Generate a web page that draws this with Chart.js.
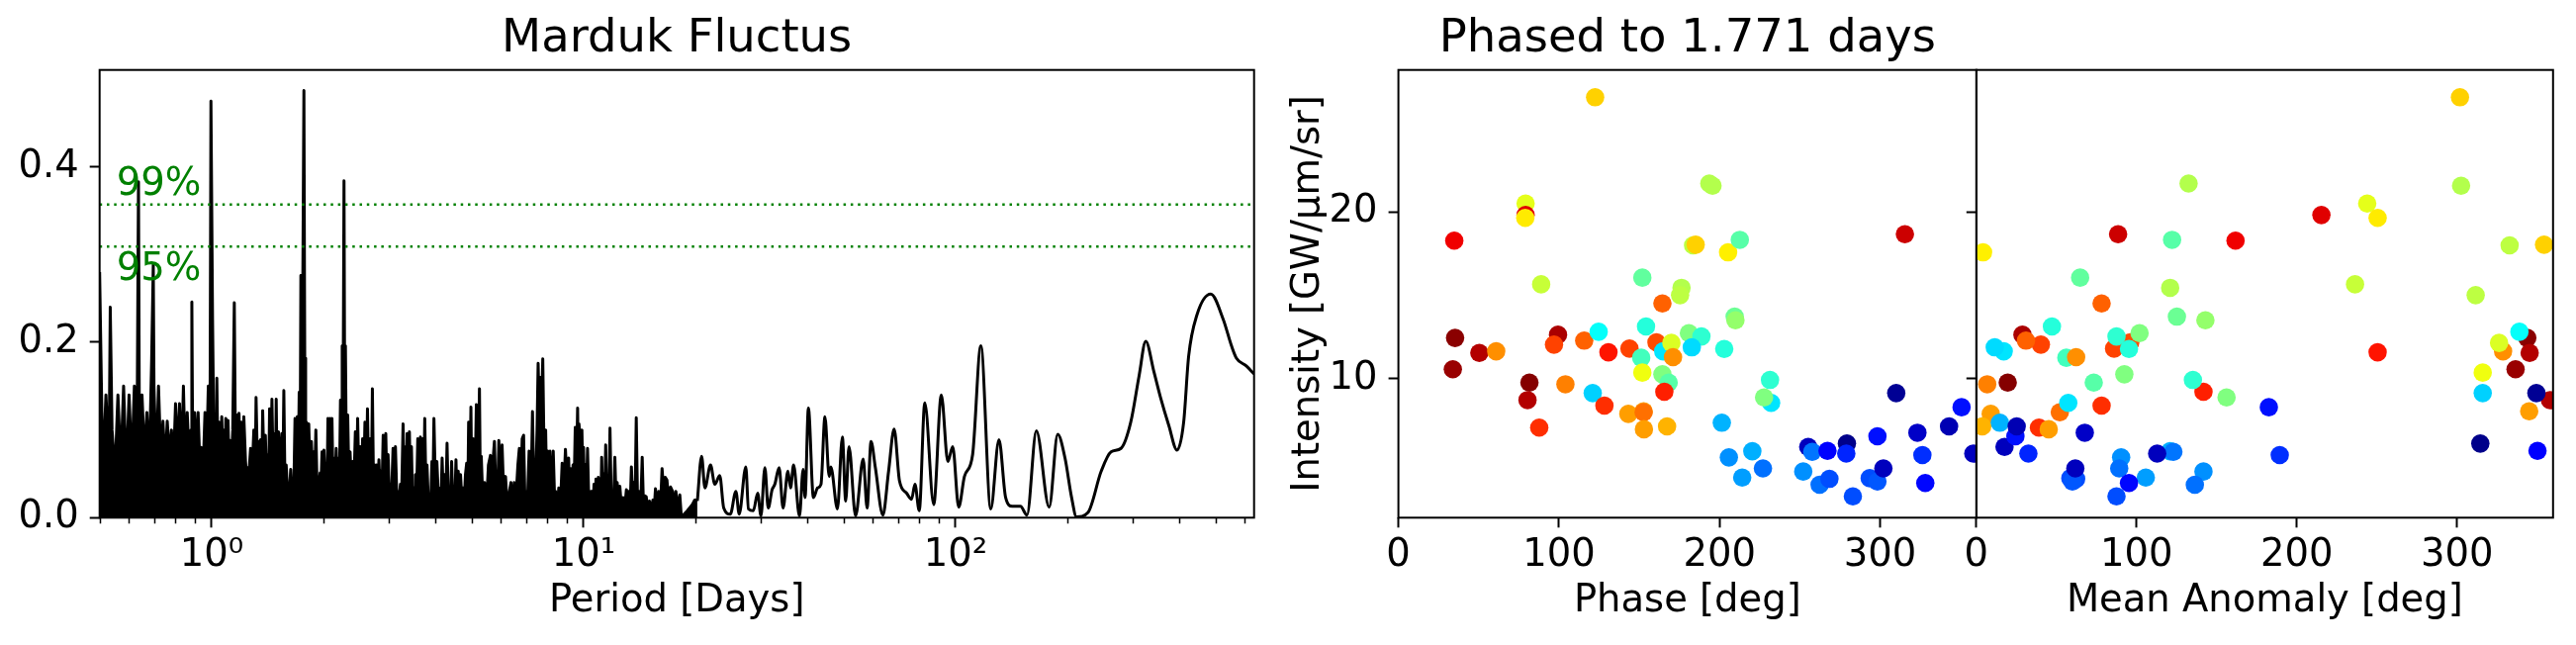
<!DOCTYPE html>
<html>
<head>
<meta charset="utf-8">
<title>Marduk Fluctus</title>
<script src="https://cdn.jsdelivr.net/npm/chart.js@4.4.1/dist/chart.umd.min.js"></script>
<style>
  html, body { margin: 0; padding: 0; background: #fff; }
  #figure { position: relative; width: 2604px; height: 652px; overflow: hidden; background: #fff; }
  #figure canvas { position: absolute; top: 0; }
</style>
</head>
<body>
<div id="figure">
  <canvas id="periodogram" width="1300" height="652" style="left:0px"></canvas>
  <canvas id="phaseChart" width="740" height="652" style="left:1300px"></canvas>
  <canvas id="anomalyChart" width="644" height="652" style="left:1960px"></canvas>
</div>
<script>
// --- 1. DATA ---

// periodogram, short periods (0.5 - 20 d): dense, noisy part
const densePeriod = [
  0.50,0.51,0.52,0.53,0.534,0.54,0.55,0.56,0.57,0.58,
  0.59,0.60,0.61,0.62,0.63,0.636,0.64,0.65,0.66,0.67,
  0.68,0.69,0.697,0.70,0.71,0.72,0.73,0.74,0.75,0.76,
  0.77,0.78,0.79,0.80,0.81,0.82,0.83,0.84,0.85,0.86,
  0.87,0.88,0.885,0.89,0.90,0.91,0.92,0.93,0.94,0.95,
  0.96,0.97,0.98,0.99,0.996,
  1.006,1.015,1.023,1.028,1.033,1.04,1.048,1.056,1.065,1.073,
  1.081,1.086,1.092,1.10,1.107,1.114,1.121,1.13,1.14,1.151,
  1.16,1.168,1.176,1.185,1.193,1.202,1.21,1.221,1.234,1.24,
  1.249,1.26,1.273,1.285,1.299,1.31,1.317,1.33,1.339,1.347,
  1.355,1.365,1.372,1.385,1.395,1.405,1.415,1.425,1.432,1.44,
  1.453,1.465,1.477,1.485,1.492,1.50,1.513,1.53,1.545,1.555,
  1.564,1.575,1.587,1.60,1.609,1.62,1.632,1.642,1.652,1.665,
  1.676,1.69,1.70,1.71,1.72,1.73,1.738,1.75,1.771,1.78,
  1.79,1.80,1.81,1.825,1.84,1.855,1.87,1.882,1.895,1.907,
  1.92,1.933,1.945,1.958,1.97,1.981,1.99,
  2.005,2.02,2.035,2.045,2.055,2.068,2.081,2.094,2.107,2.12,
  2.133,2.148,2.163,2.178,2.194,2.207,2.221,2.235,2.245,2.256,
  2.27,2.28,2.29,2.305,2.323,2.34,2.357,2.375,2.396,2.415,
  2.435,2.452,2.47,2.49,2.511,2.53,2.547,2.565,2.584,2.605,
  2.625,2.645,2.668,2.69,2.706,2.725,2.745,2.76,2.778,2.80,
  2.818,2.835,2.853,2.873,2.893,2.915,2.94,2.96,2.982,3.003,
  3.025,3.05,3.075,3.10,3.121,3.145,3.166,3.19,3.219,3.245,
  3.272,3.30,3.323,3.34,3.355,3.38,3.403,3.425,3.446,3.47,
  3.496,3.515,3.532,3.56,3.584,3.61,3.643,3.67,3.696,3.72,
  3.742,3.77,3.795,3.825,3.857,3.885,3.912,3.935,3.961,4.00,
  4.034,4.075,4.116,4.14,4.167,4.20,4.236,4.265,4.296,4.33,
  4.358,4.39,4.42,4.45,4.484,4.51,4.54,4.57,4.604,4.64,
  4.67,4.71,4.746,4.78,4.814,
  4.85,4.88,4.91,4.945,4.98,5.01,5.05,5.10,5.15,5.20,
  5.25,5.28,5.31,5.36,5.42,5.48,5.55,5.62,5.66,5.70,
  5.76,5.82,5.88,5.92,5.98,6.04,6.10,6.17,6.25,6.32,
  6.38,6.45,6.51,6.58,6.66,6.72,6.78,6.84,6.90,6.95,
  7.00,7.07,7.14,7.22,7.29,7.36,7.42,7.50,7.55,7.60,
  7.65,7.72,7.77,7.84,7.91,7.96,8.02,8.08,8.12,8.20,
  8.29,8.35,8.41,8.50,8.58,8.66,8.76,8.85,8.94,9.03,
  9.12,9.18,9.25,9.31,9.37,9.44,9.50,9.57,9.64,9.68,
  9.72,9.80,9.86,9.90,9.96,10.0,10.06,10.12,10.18,10.25,
  10.33,10.42,10.48,10.54,10.60,10.67,10.74,10.80,10.88,10.96,
  11.02,11.07,11.13,11.19,11.26,11.33,11.40,11.47,11.54,11.61,
  11.70,11.78,11.86,11.95,12.04,12.14,12.23,12.32,12.42,12.52,
  12.65,12.78,12.90,13.04,13.13,13.23,13.34,13.45,13.55,13.64,
  13.75,13.86,13.97,14.09,14.24,14.38,14.48,14.59,14.74,14.88,
  15.04,15.20,15.36,15.48,15.61,15.77,15.93,16.10,16.26,16.43,
  16.59,16.76,16.93,17.14,17.35,17.53,17.71,17.93,18.15,18.30,
  18.45,19.02,19.62,19.90,20.23
];
const densePower = [
  0.28,0.05,0.14,0.06,0.24,0.10,0.05,0.14,0.06,0.15,
  0.05,0.14,0.06,0.15,0.07,0.383,0.06,0.14,0.07,0.12,
  0.06,0.18,0.288,0.15,0.06,0.15,0.07,0.11,0.06,0.11,
  0.07,0.10,0.06,0.13,0.07,0.13,0.06,0.15,0.06,0.12,
  0.07,0.10,0.246,0.06,0.12,0.07,0.12,0.06,0.08,0.06,
  0.12,0.07,0.15,0.08,0.475,
  0.226,0.07,0.117,0.06,0.159,0.06,0.109,0.06,0.115,0.06,
  0.10,0.06,0.113,0.06,0.111,0.06,0.088,0.06,0.10,0.245,
  0.06,0.117,0.06,0.119,0.06,0.109,0.06,0.115,0.064,0.05,
  0.057,0.05,0.079,0.05,0.10,0.05,0.137,0.05,0.087,0.05,
  0.089,0.05,0.122,0.05,0.094,0.05,0.072,0.05,0.124,0.05,
  0.135,0.05,0.096,0.05,0.135,0.05,0.098,0.05,0.096,0.05,
  0.145,0.04,0.06,0.03,0.038,0.03,0.055,0.03,0.034,0.04,
  0.113,0.05,0.115,0.05,0.143,0.06,0.276,0.10,0.487,0.182,
  0.06,0.109,0.05,0.107,0.05,0.087,0.05,0.075,0.05,0.10,
  0.04,0.045,0.04,0.051,0.04,0.075,0.04,
  0.077,0.04,0.06,0.04,0.113,0.04,0.113,0.04,0.113,0.04,
  0.068,0.04,0.079,0.04,0.068,0.04,0.134,0.07,0.196,0.10,
  0.384,0.12,0.196,0.05,0.117,0.04,0.075,0.04,0.064,0.04,
  0.098,0.04,0.113,0.04,0.081,0.04,0.09,0.04,0.109,0.04,
  0.124,0.04,0.09,0.04,0.147,0.035,0.06,0.035,0.06,0.035,
  0.066,0.035,0.053,0.035,0.094,0.035,0.096,0.035,0.072,0.03,
  0.038,0.03,0.079,0.03,0.081,0.03,0.03,0.02,0.038,0.03,
  0.107,0.03,0.081,0.03,0.096,0.03,0.098,0.03,0.081,0.02,
  0.034,0.02,0.049,0.03,0.09,0.03,0.092,0.03,0.09,0.03,
  0.113,0.03,0.06,0.02,0.026,0.02,0.064,0.03,0.113,0.03,
  0.064,0.02,0.034,0.02,0.068,0.02,0.049,0.02,0.085,0.02,
  0.034,0.02,0.064,0.02,0.034,0.02,0.066,0.02,0.053,0.02,
  0.049,0.02,0.034,0.02,0.049,
  0.062,0.01,0.109,0.03,0.126,0.02,0.09,0.02,0.129,0.03,
  0.147,0.03,0.07,0.02,0.04,0.01,0.06,0.071,0.01,0.06,
  0.087,0.02,0.03,0.088,0.03,0.083,0.027,0.047,0.004,0.03,
  0.04,0.01,0.04,0.02,0.06,0.079,0.03,0.09,0.094,0.03,
  0.03,0.02,0.076,0.02,0.121,0.03,0.02,0.10,0.176,0.12,
  0.16,0.13,0.181,0.06,0.10,0.03,0.076,0.03,0.076,0.02,
  0.076,0.03,0.03,0.01,0.034,0.01,0.062,0.03,0.078,0.04,
  0.068,0.02,0.056,0.02,0.06,0.04,0.103,0.05,0.125,0.06,
  0.107,0.09,0.04,0.10,0.04,0.08,0.03,0.06,0.02,0.079,
  0.02,0.007,0.03,0.03,0.01,0.038,0.01,0.044,0.02,0.046,
  0.02,0.03,0.01,0.069,0.02,0.05,0.02,0.083,0.03,0.04,
  0.02,0.102,0.03,0.03,0.01,0.069,0.02,0.04,0.01,0.036,
  0.01,0.023,0.01,0.032,0.01,0.03,0.01,0.058,0.02,0.04,
  0.01,0.114,0.02,0.03,0.01,0.069,0.02,0.025,0.024,0.01,
  0.019,0.005,0.02,0.008,0.033,0.01,0.03,0.01,0.056,0.03,
  0.046,0.043,0.02,0.035,0.03,0.01,0.03,0.01,0.026,0.004,
  0.002,0.008,0.015,0.02,0.02
];

// periodogram, long periods (20 - 635 d)
const longPeriod = [
  20.23,20.77,21.20,21.95,22.54,23.24,23.82,24.81,25.68,26.21,
  27.31,27.76,28.62,29.39,29.99,30.73,31.37,32.14,32.68,33.56,
  34.39,35.44,36.03,36.70,38.07,38.94,39.41,40.23,41.50,42.61,
  43.49,44.57,45.75,46.22,48.15,49.65,50.68,51.72,53.88,56.47,
  57.87,59.29,60.9,63.8,66.1,68.4,70.7,73.9,76.2,77.8,
  79.9,82.7,87.4,91.6,95.4,98.3,102.0,105.7,111.2,117.0,
  124.4,130.9,136.4,142.1,149.5,155.7,165.0,178.6,188.3,197.0,
  205.2,211.5,227.2,246.5,262.0,278.6,296.0,311.7,324.7,341.8,
  355.9,374.7,394.2,410.7,423.5,445.7,485.6,524.8,552.1,569.1,
  605.2,634.6
];
const longPower = [
  0.019,0.070,0.034,0.060,0.038,0.048,0.011,0.004,0.030,0.004,
  0.058,0.010,0.008,0.028,0.002,0.057,0.011,0.032,0.038,0.057,
  0.011,0.053,0.034,0.060,0.002,0.055,0.023,0.125,0.023,0.034,
  0.038,0.115,0.047,0.058,0.010,0.092,0.019,0.081,0.002,0.067,
  0.011,0.087,0.057,0.003,0.053,0.101,0.042,0.028,0.021,0.038,
  0.008,0.131,0.015,0.140,0.064,0.081,0.012,0.047,0.072,0.196,
  0.010,0.089,0.023,0.013,0.013,0.003,0.099,0.012,0.095,0.068,
  0.023,0.001,0.006,0.053,0.075,0.079,0.109,0.162,0.201,0.166,
  0.137,0.105,0.077,0.109,0.184,0.231,0.255,0.226,0.196,0.182,
  0.173,0.164
];

const periodRange = [0.5, 635];
const powerRange = [0, 0.5105];
const fapLevels = [0.357, 0.309];     // 99% and 95% false alarm levels
const fapLabels = ['99%', '95%'];
const periodTicks = [1, 10, 100];
const periodTickLabels = ['10⁰', '10¹', '10²'];
const periodMinorTicks = [0.5, 0.6, 0.7, 0.8, 0.9, 2, 3, 4, 5, 6, 7, 8, 9,
  20, 30, 40, 50, 60, 70, 80, 90, 200, 300, 400, 500, 600];
const powerTicks = [0, 0.2, 0.4];

// phased light curve: same points in both panels
const phaseDeg = [
  122.5,34.8,79.2,79.2,79.0,88.9,35.3,33.9,50.4,60.9,
  81.6,80.4,87.7,99.4,96.9,104.0,115.7,124.7,121.0,128.3,
  130.8,143.9,143.2,152.7,152.7,152.9,167.3,151.9,154.2,151.2,
  151.9,164.4,168.3,165.6,164.4,160.7,164.9,170.0,171.0,176.3,
  175.4,180.9,188.7,182.7,183.5,185.1,193.6,195.6,205.3,212.6,
  202.9,209.4,209.9,201.4,231.4,232.1,227.7,205.8,220.4,227.0,
  214.1,252.1,255.2,257.7,262.3,268.4,267.2,279.3,278.9,283.0,
  293.5,298.3,298.3,302.0,310.0,315.4,323.2,326.3,328.1,342.9,
  350.7,358.0
];
const meanAnomalyDeg = [
  301.9,161.8,244.0,215.4,250.5,236.4,343.9,336.6,345.4,328.8,
  19.6,358.1,39.1,28.8,40.3,6.8,31.0,339.0,316.1,78.2,
  250.5,86.0,9.0,345.1,52.1,45.2,3.7,64.8,47.2,56.2,
  316.1,92.4,73.3,141.8,78.2,96.1,17.1,326.3,62.3,121.0,
  311.7,101.9,87.5,11.5,332.9,354.4,132.5,302.6,4.2,122.2,
  95.3,125.2,143.0,14.7,135.2,57.4,156.2,90.4,121.0,89.2,
  105.8,141.8,17.6,123.0,136.4,62.3,350.3,314.6,32.5,87.5,
  58.7,60.0,24.4,61.8,349.6,88.5,67.7,189.4,95.3,25.2,
  182.6,112.9
];
const intensity = [
  26.89,18.28,20.51,19.82,19.65,15.66,12.44,10.56,11.54,11.64,
  9.76,8.71,7.06,12.63,12.04,9.66,12.28,12.81,9.13,8.38,
  11.58,11.80,7.88,8.04,7.98,6.96,7.13,16.06,13.13,11.25,
  10.36,10.26,9.76,9.21,14.51,12.18,11.64,12.14,11.29,15.45,
  15.01,12.73,12.53,11.88,18.00,18.04,21.71,21.58,17.58,18.33,
  11.78,13.72,13.50,7.35,9.92,8.54,8.87,5.27,5.64,4.61,
  4.06,4.42,5.90,5.60,3.63,3.98,5.66,6.10,5.50,2.93,
  4.02,3.82,6.54,4.61,9.13,18.67,6.75,5.41,3.73,7.13,
  8.28,5.50
];
// colour value of each observation (0..1 on the jet colormap)
const timeFrac = [
  0.67,0.89,0.60,0.905,0.645,0.57,0.99,0.975,0.95,0.735,
  0.995,0.95,0.83,0.957,0.81,0.75,0.78,0.38,0.33,0.83,
  0.855,0.81,0.72,0.72,0.765,0.72,0.70,0.47,0.41,0.44,
  0.61,0.50,0.46,0.845,0.78,0.80,0.35,0.59,0.735,0.55,
  0.56,0.50,0.42,0.34,0.56,0.67,0.55,0.55,0.64,0.46,
  0.41,0.48,0.52,0.30,0.42,0.35,0.50,0.266,0.297,0.235,
  0.28,0.266,0.06,0.24,0.235,0.20,0.125,0.01,0.16,0.20,
  0.20,0.21,0.14,0.06,0.02,0.925,0.07,0.17,0.13,0.05,
  0.14,0.06
];
const degRange = [0, 360];
const degTicks = [0, 100, 200, 300];
const intensityRange = [1.65, 28.53];
const intensityTicks = [10, 20];

// --- 2. SHARED STYLE ---
Chart.defaults.font.family = "'DejaVu Sans', sans-serif";
Chart.defaults.color = '#000';
const TICK_FONT = { size: 38.5 };
const LABEL_FONT = { size: 38.5 };
const TITLE_FONT = { size: 46.5, weight: 'normal' };
const TITLE_PAD = { top: 12, bottom: 2.9 };

function jet(v) {
  const c = k => Math.round(255 * Math.max(0, Math.min(1, 1.5 - Math.abs(4 * v - k))));
  return 'rgb(' + c(3) + ',' + c(2) + ',' + c(1) + ')';
}
function fixTicks(values) {
  return function(scale) { scale.ticks = values.map(v => ({ value: v })); };
}
function tickMarks() {
  return { drawOnChartArea: false, drawTicks: true, tickLength: 10, tickWidth: 2, tickColor: '#000' };
}

// box around the axes (drawn over the points, like matplotlib spines)
const axesFrame = {
  id: 'axesFrame',
  afterDatasetsDraw(chart) {
    const a = chart.chartArea, ctx = chart.ctx;
    ctx.save();
    ctx.strokeStyle = '#000';
    ctx.lineWidth = 2;
    ctx.strokeRect(a.left, a.top, a.right - a.left, a.bottom - a.top);
    ctx.restore();
  }
};

// short minor ticks on the log axis
const minorTicks = {
  id: 'minorTicks',
  afterDraw(chart, args, opts) {
    if (!opts.values) return;
    const x = chart.scales.x, ctx = chart.ctx, y0 = chart.chartArea.bottom;
    ctx.save();
    ctx.strokeStyle = '#000';
    ctx.lineWidth = 1.5;
    ctx.beginPath();
    opts.values.forEach(v => {
      const px = Math.round(x.getPixelForValue(v)) + 0.5;
      ctx.moveTo(px, y0);
      ctx.lineTo(px, y0 + opts.length);
    });
    ctx.stroke();
    ctx.restore();
  }
};

// "99%" / "95%" labels next to the false alarm lines
const fapText = {
  id: 'fapText',
  afterDatasetsDraw(chart, args, opts) {
    if (!opts.items) return;
    const { x, y } = chart.scales, ctx = chart.ctx;
    ctx.save();
    ctx.fillStyle = opts.color;
    ctx.font = opts.size + "px 'DejaVu Sans', sans-serif";
    ctx.textAlign = 'left';
    ctx.textBaseline = 'alphabetic';
    opts.items.forEach(it => ctx.fillText(it.text, x.getPixelForValue(it.x), y.getPixelForValue(it.y)));
    ctx.restore();
  }
};

// --- 3. PERIODOGRAM ---
const denseData = densePeriod.map((p, i) => ({ x: p, y: densePower[i] }));
const longData = longPeriod.map((p, i) => ({ x: p, y: longPower[i] }));
const fapData = fapLevels.map(l => [{ x: periodRange[0], y: l }, { x: periodRange[1], y: l }]);

new Chart(document.getElementById('periodogram'), {
  type: 'line',
  data: {
    datasets: [
      { data: fapData[0], borderColor: '#008000', borderWidth: 2.5, borderDash: [2.5, 4.8], fill: false },
      { data: fapData[1], borderColor: '#008000', borderWidth: 2.5, borderDash: [2.5, 4.8], fill: false },
      { data: denseData, borderColor: '#000', backgroundColor: '#000', borderWidth: 3,
        fill: 'origin', borderJoinStyle: 'round' },
      { data: longData, borderColor: '#000', borderWidth: 3, fill: false,
        cubicInterpolationMode: 'monotone', borderJoinStyle: 'round' }
    ]
  },
  options: {
    responsive: false, animation: false, devicePixelRatio: 1, events: [],
    elements: { point: { radius: 0 } },
    layout: { autoPadding: false, padding: { left: 0, right: 32.3, top: 0, bottom: 0 } },
    plugins: {
      legend: { display: false }, tooltip: { enabled: false },
      title: { display: true, fullSize: false, text: 'Marduk Fluctus', font: TITLE_FONT, color: '#000',
               padding: TITLE_PAD },
      minorTicks: { values: periodMinorTicks, length: 6 },
      fapText: { color: '#008000', size: 38.5, items: [
        { text: fapLabels[0], x: 0.555, y: fapLevels[0] + 0.011 },
        { text: fapLabels[1], x: 0.555, y: fapLevels[1] - 0.0375 } ] }
    },
    scales: {
      x: {
        type: 'logarithmic', min: periodRange[0], max: periodRange[1], bounds: 'data',
        afterBuildTicks: fixTicks(periodTicks),
        afterFit: s => { s.height = 128.7; },
        ticks: { font: TICK_FONT, color: '#000', padding: 5.3, maxRotation: 0, autoSkip: false,
                 callback: v => periodTickLabels[periodTicks.indexOf(v)] },
        grid: tickMarks(), border: { display: false },
        title: { display: true, text: 'Period [Days]', font: LABEL_FONT, color: '#000',
                 padding: { top: 0, bottom: 20.6 } }
      },
      y: {
        min: powerRange[0], max: powerRange[1], bounds: 'data',
        afterBuildTicks: fixTicks(powerTicks),
        afterFit: s => { s.width = 100.7; },
        ticks: { font: TICK_FONT, color: '#000', padding: 11, callback: v => v.toFixed(1) },
        grid: tickMarks(), border: { display: false }
      }
    }
  },
  plugins: [axesFrame, minorTicks, fapText]
});

// --- 4. PHASED CURVES (PHASE & MEAN ANOMALY) ---
const pointColors = timeFrac.map(jet);

function phasedChart(canvasId, xs, cfg) {
  return new Chart(document.getElementById(canvasId), {
    type: 'scatter',
    data: {
      datasets: [{
        data: xs.map((x, i) => ({ x: x, y: intensity[i] })),
        backgroundColor: pointColors, pointRadius: 9.3, pointBorderWidth: 0, borderWidth: 0
      }]
    },
    options: {
      responsive: false, animation: false, devicePixelRatio: 1, events: [],
      layout: { autoPadding: false, padding: cfg.padding },
      plugins: {
        legend: { display: false }, tooltip: { enabled: false },
        title: cfg.title ? { display: true, fullSize: false, text: cfg.title, font: TITLE_FONT, color: '#000',
                             padding: TITLE_PAD } : { display: false }
      },
      scales: {
        x: {
          min: degRange[0], max: degRange[1], bounds: 'data',
          afterBuildTicks: fixTicks(degTicks),
          afterFit: s => { s.height = 128.7; },
          ticks: { font: TICK_FONT, color: '#000', padding: 5.3, maxRotation: 0, autoSkip: false },
          grid: tickMarks(), border: { display: false },
          title: { display: true, text: cfg.xLabel, font: LABEL_FONT, color: '#000',
                   padding: { top: 0, bottom: 20.6 } }
        },
        y: {
          min: intensityRange[0], max: intensityRange[1], bounds: 'data',
          afterBuildTicks: fixTicks(intensityTicks),
          afterFit: s => { s.width = cfg.yWidth; },
          ticks: { display: cfg.yLabels, font: TICK_FONT, color: '#000', padding: 11 },
          grid: tickMarks(), border: { display: false },
          title: { display: !!cfg.yTitle, text: cfg.yTitle || '', font: LABEL_FONT, color: '#000',
                   padding: { top: 0, bottom: 0 } }
        }
      }
    },
    plugins: [axesFrame]
  });
}

phasedChart('phaseChart', phaseDeg, {
  title: 'Phased to 1.771 days', xLabel: 'Phase [deg]', yTitle: 'Intensity [GW/μm/sr]',
  yLabels: true, yWidth: 113.6, padding: { left: 0, right: 42, top: 0, bottom: 0 }
});
phasedChart('anomalyChart', meanAnomalyDeg, {
  title: null, xLabel: 'Mean Anomaly [deg]', yTitle: null,
  yLabels: false, yWidth: 37.8, padding: { left: 0, right: 23.2, top: 70.7, bottom: 0 }
});
</script>
</body>
</html>
